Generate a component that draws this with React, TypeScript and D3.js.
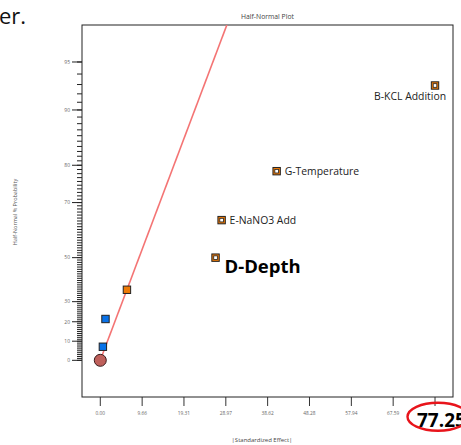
import * as d3 from "d3";

// half-normal plot data
const effectValues = [0.6, 1.2, 6.15, 26.6, 28.0, 40.7, 77.25];
const effectProbs = [7.1, 21.4, 35.7, 50, 64.3, 78.6, 92.9];
const effectLabels = ["", "", "", "D-Depth", "E-NaNO3 Add", "G-Temperature", "B-KCL Addition"];
const effectSigns = ["neg", "neg", "pos", "pos", "pos", "pos", "pos"];
const errorValues = [0];
const errorProbs = [0];
const lineValues = [0, 33];
const lineProbs = [0, 98.72];
const xTicks = [0, 9.66, 19.31, 28.97, 38.62, 48.28, 57.94, 67.59, 77.25];
const yLabelTicks = [0, 10, 20, 30, 50, 70, 80, 90, 95];

const W = 461;
const H = 445;
const frame = { left: 82, top: 25, right: 453, bottom: 397 };

// inverse normal cdf (Acklam)
function probit(p: number) {
  const a = [-39.6968302866538, 220.946098424521, -275.928510446969, 138.357751867269, -30.6647980661472, 2.50662827745924];
  const b = [-54.4760987982241, 161.585836858041, -155.698979859887, 66.8013118877197, -13.2806815528857];
  const c = [-0.00778489400243029, -0.322396458041136, -2.40075827716184, -2.54973253934373, 4.37466414146497, 2.93816398269878];
  const d = [0.00778469570904146, 0.32246712907004, 2.445134137143, 3.75440866190742];
  const pl = 0.02425;
  if (p < pl) {
    const q = Math.sqrt(-2 * Math.log(p));
    return (((((c[0] * q + c[1]) * q + c[2]) * q + c[3]) * q + c[4]) * q + c[5]) / ((((d[0] * q + d[1]) * q + d[2]) * q + d[3]) * q + 1);
  }
  if (p > 1 - pl) {
    const q = Math.sqrt(-2 * Math.log(1 - p));
    return -(((((c[0] * q + c[1]) * q + c[2]) * q + c[3]) * q + c[4]) * q + c[5]) / ((((d[0] * q + d[1]) * q + d[2]) * q + d[3]) * q + 1);
  }
  const q = p - 0.5;
  const r = q * q;
  return ((((((a[0] * r + a[1]) * r + a[2]) * r + a[3]) * r + a[4]) * r + a[5]) * q) / (((((b[0] * r + b[1]) * r + b[2]) * r + b[3]) * r + b[4]) * r + 1);
}
const halfZ = (pct: number) => (pct <= 0 ? 0 : probit(0.5 + pct / 200));

export default function App() {
  const x = d3.scaleLinear().domain([-4.22, 81.4]).range([frame.left, frame.right]);
  const zScale = d3.scaleLinear().domain([-0.241, 2.203]).range([frame.bottom, frame.top]);
  const y = (pct: number) => zScale(halfZ(pct));

  const minorTicks = d3.range(0, 96);
  const linePath = d3
    .line<number>()
    .x((_, i) => x(lineValues[i]))
    .y((_, i) => y(lineProbs[i]))(lineValues);

  const tickFont = "'Open Sans', sans-serif";

  return (
    <svg width={W} height={H} style={{ position: "absolute", left: 0, top: 0, background: "#fff" }}>
      <defs>
        <clipPath id="plotClip">
          <rect x={frame.left} y={frame.top} width={frame.right - frame.left} height={frame.bottom - frame.top} />
        </clipPath>
      </defs>

      {/* leftover text from the page */}
      <text x={-1} y={24} fontFamily="'Open Sans', sans-serif" fontSize={22} fill="#111">er.</text>

      <text x={(frame.left + frame.right) / 2} y={19} textAnchor="middle" fontFamily={tickFont} fontSize={6.8} fill="#444">
        Half-Normal Plot
      </text>

      {/* y ticks */}
      {minorTicks.map((p) => (
        <line key={"m" + p} x1={frame.left - 5} x2={frame.left} y1={y(p)} y2={y(p)} stroke="#222" strokeWidth={1} />
      ))}
      {yLabelTicks.map((p) => (
        <g key={"y" + p}>
          <line x1={frame.left - 10} x2={frame.left} y1={y(p)} y2={y(p)} stroke="#222" strokeWidth={1} />
          <text x={frame.left - 12} y={y(p)} dy="0.35em" textAnchor="end" fontFamily={tickFont} fontSize={5} fill="#666">
            {p}
          </text>
        </g>
      ))}

      {/* x ticks */}
      {xTicks.map((t) => (
        <g key={"x" + t}>
          <line x1={x(t)} x2={x(t)} y1={frame.bottom} y2={frame.bottom + 9} stroke="#333" strokeWidth={1} />
          {t !== 77.25 && (
            <text x={x(t)} y={frame.bottom + 16} dy="0.35em" textAnchor="middle" fontFamily={tickFont} fontSize={4.8} fill="#666">
              {t.toFixed(2)}
            </text>
          )}
        </g>
      ))}

      <text x={15} y={212} transform="rotate(-90 15 212)" dy="0.35em" textAnchor="middle" fontFamily={tickFont} fontSize={5.5} fill="#555">
        Half-Normal % Probability
      </text>
      <text x={262} y={440} dy="0.35em" textAnchor="middle" fontFamily={tickFont} fontSize={6} fill="#444">
        |Standardized Effect|
      </text>

      <rect x={frame.left} y={frame.top} width={frame.right - frame.left} height={frame.bottom - frame.top} fill="none" stroke="#222" strokeWidth={1} />

      <path d={linePath ?? ""} fill="none" stroke="#f47474" strokeWidth={1.6} clipPath="url(#plotClip)" />

      {errorValues.map((v, i) => (
        <circle key={"e" + i} cx={x(v)} cy={y(errorProbs[i])} r={6} fill="#bf605b" stroke="#3a1c1c" strokeWidth={1} />
      ))}

      {effectValues.map((v, i) => {
        const cx = x(v);
        const cy = y(effectProbs[i]);
        const label = effectLabels[i];
        const fill = effectSigns[i] === "neg" ? "#0a72e8" : "#ee7a06";
        return (
          <g key={"p" + i}>
            <rect x={cx - 3.7} y={cy - 3.7} width={7.4} height={7.4} fill={fill} stroke="#222" strokeWidth={1} />
            {label && <rect x={cx - 1.8} y={cy - 1.8} width={3.6} height={3.6} fill="#fff" stroke="#222" strokeWidth={0.8} />}
          </g>
        );
      })}

      {effectValues.map((v, i) => {
        const label = effectLabels[i];
        if (!label) return null;
        const cx = x(v);
        const cy = y(effectProbs[i]);
        if (label === "D-Depth")
          return (
            <text key={"l" + i} x={cx + 9} y={cy + 15} fontFamily="'Open Sans', sans-serif" fontWeight="bold" fontSize={18.5} fill="#000">
              {label}
            </text>
          );
        if (label === "B-KCL Addition")
          return (
            <text key={"l" + i} x={cx + 11} y={cy + 14.5} textAnchor="end" fontFamily="'Open Sans', sans-serif" fontSize={10.4} fill="#222">
              {label}
            </text>
          );
        return (
          <text key={"l" + i} x={cx + 8} y={cy + 4} fontFamily="'Open Sans', sans-serif" fontSize={10.4} fill="#222">
            {label}
          </text>
        );
      })}

      {/* highlighted last tick */}
      <text x={417} y={426.5} fontFamily="'Open Sans', sans-serif" fontWeight="bold" fontSize={19} fill="#000">
        77.25
      </text>
      <ellipse cx={438} cy={416.7} rx={30.5} ry={14} fill="none" stroke="#e8141b" strokeWidth={2.4} />
    </svg>
  );
}
